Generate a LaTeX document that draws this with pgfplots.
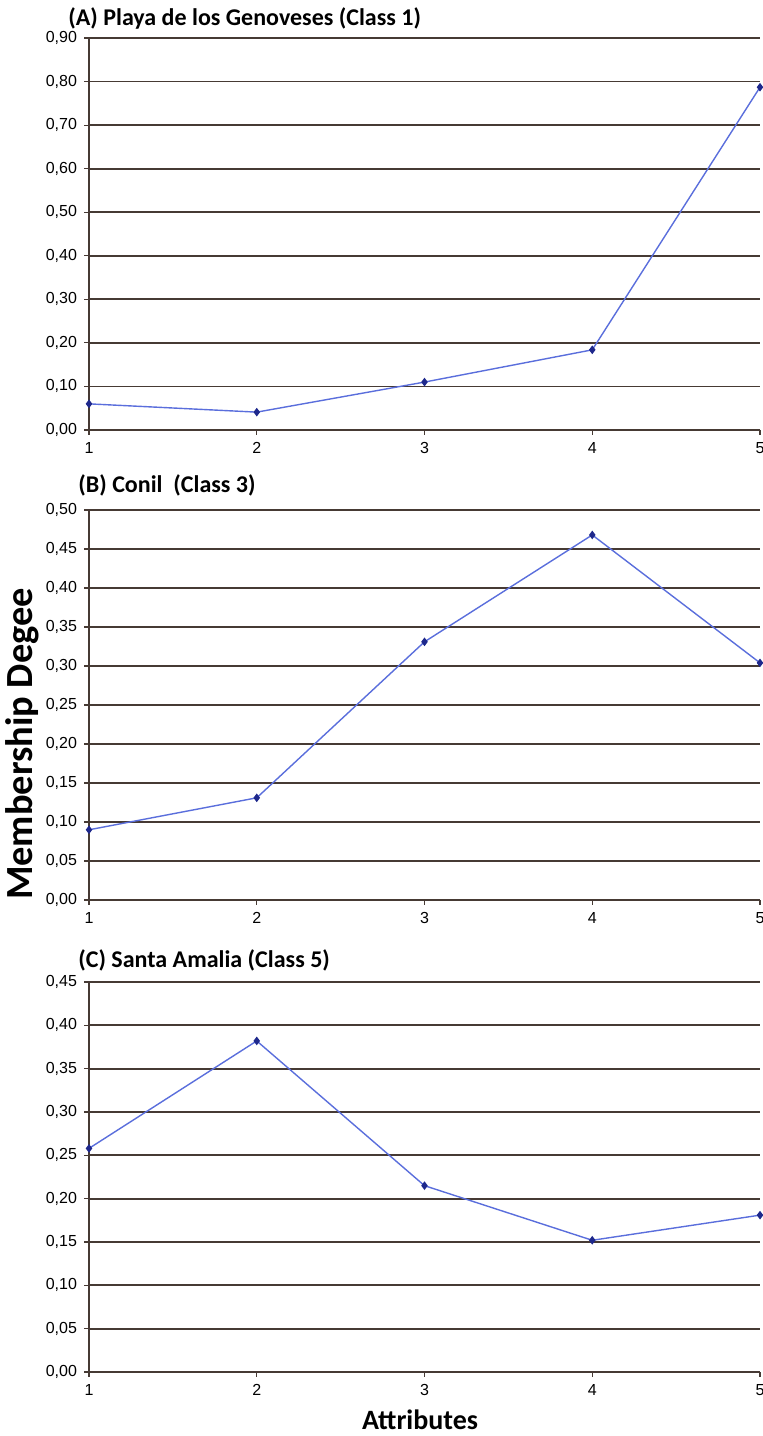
\documentclass[border=0pt]{standalone}
\usepackage{pgfplots}
\pgfplotsset{compat=1.18}
\usepackage{fontspec}
\setmainfont{Liberation Sans}
\newfontfamily\calfont{Carlito}

\definecolor{gridc}{RGB}{70,58,52}
\definecolor{linec}{RGB}{90,110,220}
\definecolor{markc}{RGB}{30,40,140}

\pgfplotsset{
  panel/.style={
    scale only axis, width=335.5pt, anchor=south west,
    xmin=1, xmax=5, xtick={1,2,3,4,5},
    axis lines=left,
    axis line style={-, draw=gridc, line width=0.8pt},
    ymajorgrids, grid style={draw=gridc, line width=0.9pt},
    tick align=outside, major tick length=2.5pt,
    tick style={draw=gridc, line width=0.6pt},
    /pgf/number format/assume math mode=true,
    ticklabel style={font=\fontsize{8}{9}\selectfont},
    yticklabel style={/pgf/number format/.cd, fixed, fixed zerofill, precision=2, use comma},
    xticklabel style={/pgf/number format/.cd, fixed, precision=0},
    clip=false,
  },
  series/.style={color=linec, line width=0.7pt, mark=diamond*, mark size=1.6pt,
    mark options={fill=markc, draw=markc}},
}

\begin{document}
\begin{tikzpicture}
\begin{axis}[panel, at={(44.5pt,503pt)}, height=196pt, ymin=0, ymax=0.9,
  ytick={0,0.1,0.2,0.3,0.4,0.5,0.6,0.7,0.8,0.9}]
\addplot[series] coordinates {(1,0.060)(2,0.041)(3,0.110)(4,0.184)(5,0.787)};
\end{axis}
\begin{axis}[panel, at={(44.5pt,268pt)}, height=195pt, ymin=0, ymax=0.5,
  ytick={0,0.05,0.1,0.15,0.2,0.25,0.3,0.35,0.4,0.45,0.5}]
\addplot[series] coordinates {(1,0.090)(2,0.131)(3,0.331)(4,0.468)(5,0.304)};
\end{axis}
\begin{axis}[panel, at={(44.5pt,32pt)}, height=195pt, ymin=0, ymax=0.45,
  ytick={0,0.05,0.1,0.15,0.2,0.25,0.3,0.35,0.4,0.45}]
\addplot[series] coordinates {(1,0.258)(2,0.382)(3,0.215)(4,0.152)(5,0.181)};
\end{axis}
\node[anchor=base west, inner sep=0, font=\calfont\bfseries\fontsize{12}{14}\selectfont] at (34pt,705pt) {(A) Playa de los Genoveses (Class 1)};
\node[anchor=base west, inner sep=0, font=\calfont\bfseries\fontsize{12}{14}\selectfont] at (39pt,471.5pt) {(B) Conil\ \ (Class 3)};
\node[anchor=base west, inner sep=0, font=\calfont\bfseries\fontsize{12}{14}\selectfont] at (39pt,234pt) {(C) Santa Amalia (Class 5)};
\node[anchor=base, inner sep=0, font=\calfont\bfseries\fontsize{14}{16}\selectfont] at (210pt,3pt) {Attributes};
\node[anchor=base, rotate=90, inner sep=0, font=\calfont\bfseries\fontsize{19.2}{22}\selectfont] at (16pt,346pt) {Membership Degee};
\pgfresetboundingbox
\path (0,0) rectangle (381pt,718pt);
\end{tikzpicture}
\end{document}
